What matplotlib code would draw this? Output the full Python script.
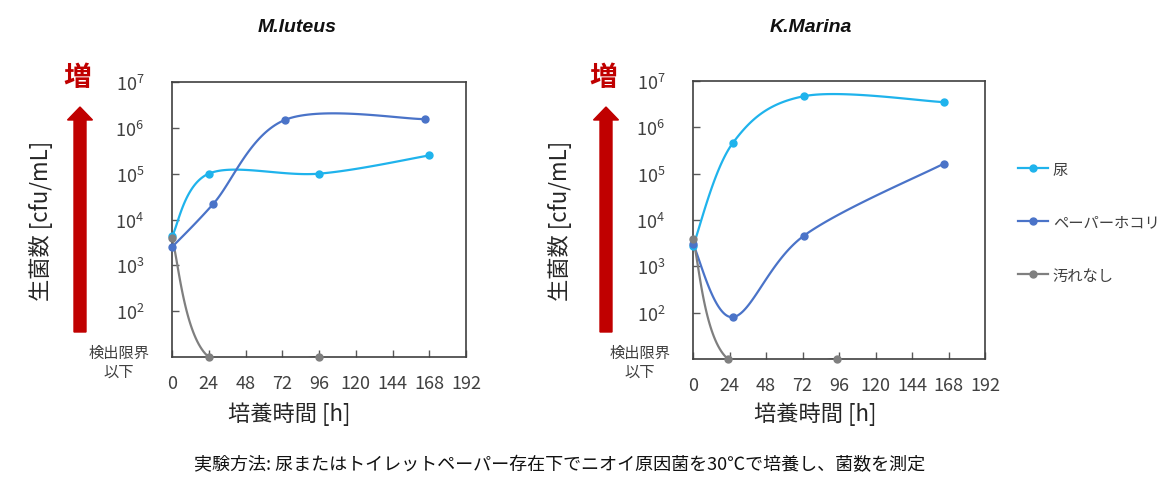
import numpy as np
import matplotlib
matplotlib.use("Agg")
import matplotlib.pyplot as plt
from matplotlib.patches import FancyArrow
from matplotlib.lines import Line2D

plt.rcParams['font.family'] = ['Noto Sans CJK JP', 'DejaVu Sans']

# ---- data ----
titles = ["M.luteus", "K.Marina"]
series_names = ["尿", "ペーパーホコリ", "汚れなし"]
series_colors = ["#1FB3EC", "#4A73C8", "#7F7F7F"]

# M.luteus
ml_urine_x = [0, 24, 96, 168]
ml_urine_y = [4.3e3, 1.0e5, 1.0e5, 2.5e5]
ml_paper_x = [0, 27, 74, 165]
ml_paper_y = [2.5e3, 2.2e4, 1.5e6, 1.55e6]
ml_clean_x = [0, 24, 96]
ml_clean_y = [3.9e3, 10, 10]

# K.Marina
km_urine_x = [0, 26, 73, 165]
km_urine_y = [2.7e3, 4.5e5, 4.7e6, 3.5e6]
km_paper_x = [0, 26, 73, 165]
km_paper_y = [3.0e3, 80, 4.6e3, 1.65e5]
km_clean_x = [0, 23, 95]
km_clean_y = [3.8e3, 10, 10]

xticks = [0, 24, 48, 72, 96, 120, 144, 168, 192]
yticks = [1e2, 1e3, 1e4, 1e5, 1e6, 1e7]
ytick_labels = [r'$\mathregular{10^{%d}}$' % k for k in range(2, 8)]

panels = [
    (titles[0], [(ml_urine_x, ml_urine_y), (ml_paper_x, ml_paper_y), (ml_clean_x, ml_clean_y)]),
    (titles[1], [(km_urine_x, km_urine_y), (km_paper_x, km_paper_y), (km_clean_x, km_clean_y)]),
]


def smooth(xs, ys, n=40):
    # Catmull-Rom spline through the points in (x, log10 y) space, like Excel's smoothed line
    P = np.column_stack([np.asarray(xs, float), np.log10(ys)])
    P = np.vstack([P[0], P, P[-1]])
    t = np.linspace(0, 1, n)[:, None]
    segs = []
    for i in range(1, len(P) - 2):
        p0, p1, p2, p3 = P[i - 1], P[i], P[i + 1], P[i + 2]
        seg = 0.5 * (2 * p1 + (-p0 + p2) * t + (2 * p0 - 5 * p1 + 4 * p2 - p3) * t ** 2
                     + (-p0 + 3 * p1 - 3 * p2 + p3) * t ** 3)
        segs.append(seg)
    S = np.vstack(segs)
    return S[:, 0], 10 ** S[:, 1]


W, H = 1168, 481
fig = plt.figure(figsize=(W / 100, H / 100), dpi=100)

# axes boxes in pixels: left, top, right, bottom
boxes = [(172, 83, 466, 358), (693, 82, 985, 360)]
arrow_x = [80, 606]
ylabel_x = [41, 560]
title_x = [297, 811]
xlabel_x = [289, 815]

for k, (title, data) in enumerate(panels):
    l, t, r, b = boxes[k]
    ax = fig.add_axes([l / W, (H - b) / H, (r - l) / W, (b - t) / H])
    ax.set_yscale('log')
    ax.set_xlim(0, 192)
    ax.set_ylim(10, 1e7)
    for (xs, ys), c in zip(data, series_colors):
        sx, sy = smooth(xs, ys)
        ax.plot(sx, sy, color=c, lw=1.6, solid_capstyle='round')
        ax.plot(xs, ys, 'o', color=c, ms=5, clip_on=False, zorder=3)
    ax.set_xticks(xticks)
    ax.set_yticks(yticks)
    ax.set_yticklabels(ytick_labels)
    ax.minorticks_off()
    ax.tick_params(direction='in', length=5, width=1, color='#595959',
                   labelcolor='#404040', labelsize=13)
    ax.tick_params(axis='y', pad=20)
    ax.tick_params(axis='x', pad=12)
    for s in ax.spines.values():
        s.set_color('#404040')
        s.set_linewidth(1.2)

    # detection limit label at the bottom of the y axis
    fig.text((l - 53) / W, (H - 363) / H, "検出限界\n以下", ha='center', va='center',
             fontsize=11, color='#404040', linespacing=1.1)
    # y label and x label
    fig.text(ylabel_x[k] / W, (H - 221) / H, "生菌数 [cfu/mL]", rotation=90,
             ha='center', va='center', fontsize=16, color='#262626')
    fig.text(xlabel_x[k] / W, (H - 414) / H, "培養時間 [h]", ha='center', va='center',
             fontsize=16, color='#262626')
    fig.text(title_x[k] / W, (H - 28) / H, title, ha='center', va='center',
             fontsize=14, fontweight='bold', fontstyle='italic',
             family=['Liberation Sans', 'DejaVu Sans'], color='#111111')

    # red "increase" arrow
    ax_in = arrow_x[k] / 100
    fig.patches.append(FancyArrow(ax_in, (H - 333) / 100, 0, (333 - 108) / 100,
                                  width=0.12, head_width=0.25, head_length=0.13,
                                  length_includes_head=True, color='#C00000',
                                  transform=fig.dpi_scale_trans, figure=fig))
    fig.text(arrow_x[k] / W - 0.002, (H - 78) / H, "増", ha='center', va='center',
             fontsize=20, fontweight='bold', color='#C00000')

handles = [Line2D([0], [0], color=c, lw=1.6, marker='o', ms=5) for c in series_colors]
fig.legend(handles, series_names, loc='upper left', bbox_to_anchor=(1004 / W, (H - 148) / H),
           frameon=False, fontsize=11, handlelength=2.0, handletextpad=0.3,
           labelspacing=2.35, labelcolor='#404040')

fig.text(560 / W, (H - 465) / H,
         "実験方法: 尿またはトイレットペーパー存在下でニオイ原因菌を30℃で培養し、菌数を測定",
         ha='center', va='center', fontsize=13, color='#111111')

fig.savefig("out.png", dpi=100)
